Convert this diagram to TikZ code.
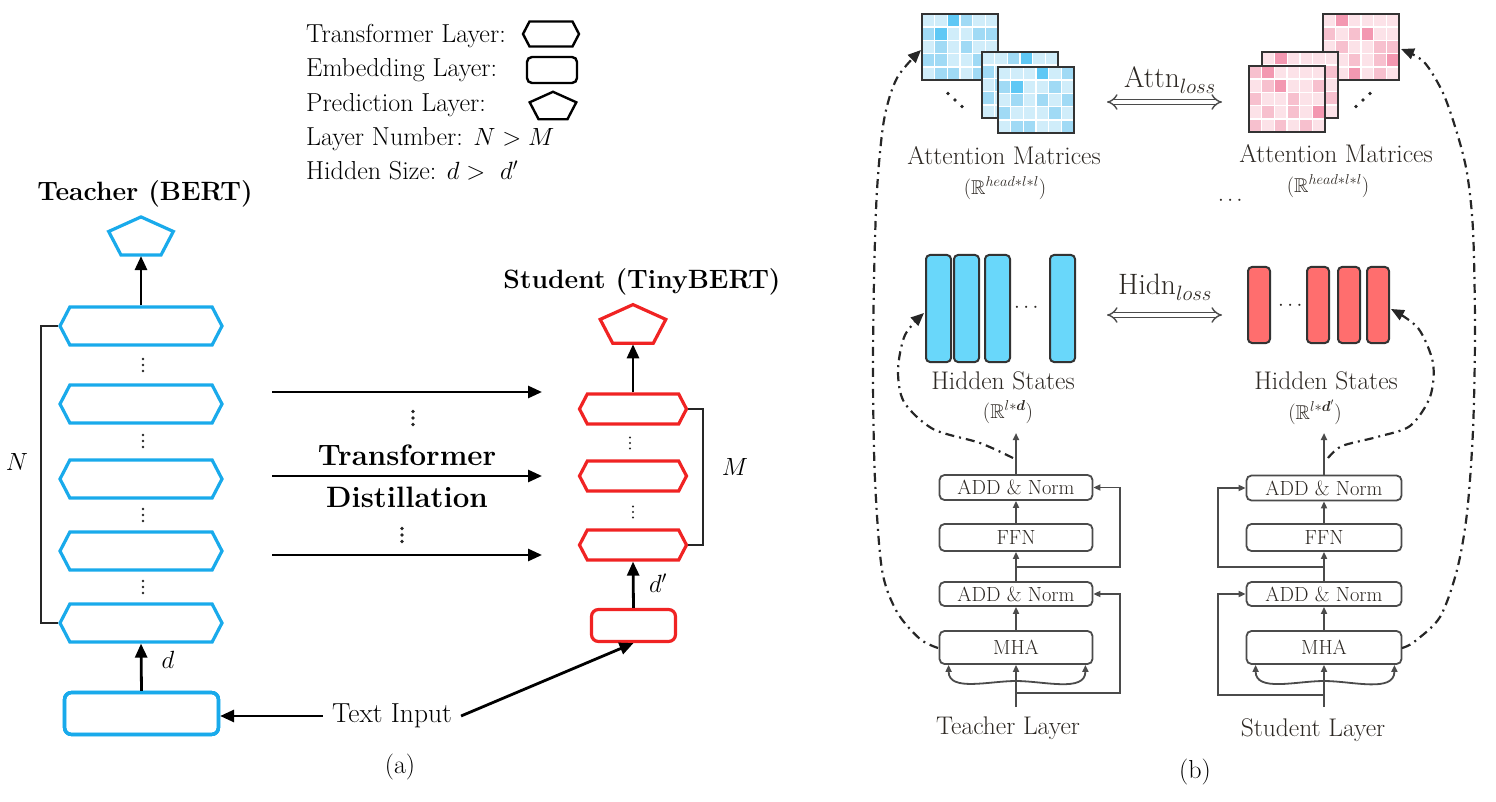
\documentclass[tikz,border=0pt]{standalone}
\usepackage{amsmath, amssymb}
\usepackage{tikz}
\usetikzlibrary{arrows.meta, positioning, shapes.geometric, shapes.symbols, calc}
\definecolor{tblue}{RGB}{25,170,235}
\definecolor{sred}{RGB}{240,35,35}
\definecolor{hidblue}{RGB}{105,215,250}
\definecolor{hidred}{RGB}{255,110,110}
\definecolor{bcell0}{RGB}{208,237,250}
\definecolor{bcell1}{RGB}{160,218,245}
\definecolor{bcell2}{RGB}{95,200,245}
\definecolor{pcell0}{RGB}{252,226,232}
\definecolor{pcell1}{RGB}{247,192,206}
\definecolor{pcell2}{RGB}{243,152,177}
\definecolor{boxgray}{RGB}{75,75,75}
\definecolor{txtgray}{RGB}{45,40,35}

\tikzset{
  tlayer/.style={signal, signal to=west and east, signal pointer angle=125,
    line width=3.2pt, minimum width=162pt, minimum height=38pt, inner sep=0pt},
  slayer/.style={tlayer, minimum width=107pt, minimum height=30pt},
  elayer/.style={rectangle, rounded corners=7pt, line width=3.2pt, inner sep=0pt},
  player/.style={regular polygon, regular polygon sides=5, yscale=0.62,
    line width=3.2pt, inner sep=0pt},
  lgd/.style={font=\fontsize{26}{30}\selectfont, inner sep=0pt},
  ttl/.style={font=\fontsize{26.5}{31}\selectfont\bfseries, inner sep=0pt},
  big/.style={font=\fontsize{29.5}{34}\selectfont\bfseries, inner sep=0pt},
  arr/.style={line width=2.8pt, -{Triangle[length=14pt,width=12pt]}},
  brk/.style={line width=2pt, black!85},
  lbl/.style={font=\fontsize{25.5}{30}\selectfont, text=txtgray, inner sep=0pt},
  sub/.style={font=\fontsize{20}{24}\selectfont, text=txtgray, inner sep=0pt},
  blk/.style={draw=boxgray, line width=1.8pt, rounded corners=5pt, fill=white,
    minimum width=153pt, inner sep=0pt, font=\fontsize{20.5}{24}\selectfont, text=txtgray},
  sarr/.style={line width=1.8pt, boxgray, -{Triangle[length=7pt,width=6pt]}},
  dd/.style={line width=2.2pt, black!85, dash pattern=on 9pt off 5pt on 2pt off 5pt,
    -{Triangle[length=13pt,width=11pt]}},
  dbl/.style={draw=boxgray, line width=1.4pt, double=white, double distance=4pt,
    {Implies}-{Implies}},
  hbar/.style={draw=black!80, line width=2pt, rounded corners=4pt},
}

% one attention matrix: top-left x, top-left y, colour prefix, 30 shades
\newcommand{\attnmat}[4]{%
  \fill[white] (#1,#2) rectangle ++(76,66);
  \foreach \s [count=\k from 0] in {#4} {
    \pgfmathsetmacro\xx{#1+mod(\k,6)*12.667+0.8}
    \pgfmathsetmacro\yy{#2+div(\k,6)*13.2+0.8}
    \fill[#3\s] (\xx,\yy) rectangle ++(11.07,11.6);
  }
  \draw[line width=2pt, black!80] (#1,#2) rectangle ++(76,66);
}
% three dots in a column: x, y, gap, radius
\newcommand{\dotcol}[4]{%
  \foreach \dy in {-1,0,1} \fill[black!85] (#1,#2+\dy*#3) circle (#4);
}

\begin{document}
\begin{tikzpicture}[x=1pt, y=-1pt]
  \useasboundingbox (0,0) rectangle (1496,802);

  % Legend
  \node[lgd, anchor=base west] (lg1) at (306,43) {Transformer Layer:};
  \node[lgd, anchor=base west] (lg2) at (306,77) {Embedding Layer:};
  \node[lgd, anchor=base west] (lg3) at (306,112) {Prediction Layer:};
  \node[lgd, anchor=base west] (lg4) at (306,146) {Layer Number: $N > M$};
  \node[lgd, anchor=base west] (lg5) at (306,180) {Hidden Size: $d >\ d'$};
  \node[tlayer, draw=black, line width=2.4pt, minimum width=56pt, minimum height=25pt] (lgh) at (551,34) {};
  \node[elayer, draw=black, line width=2.4pt, minimum width=50pt, minimum height=26pt, rounded corners=5pt] (lgr) at (552,70) {};
  \node[player, draw=black, line width=2.4pt, minimum size=49pt] (lgp) at (553,107) {};

  % Teacher
  \node[ttl, anchor=base] (tname) at (145,201) {Teacher (BERT)};
  \node[player, draw=tblue, minimum size=68pt] (tpred) at (141,238) {};
  \foreach \i/\y in {1/326,2/404,3/479,4/551,5/623}
    \node[tlayer, draw=tblue] (thex\i) at (141,\y) {};
  \foreach \y in {365,441,515,587}
    \dotcol{143}{\y}{6}{1.3pt}
  \node[elayer, draw=tblue, minimum width=154pt, minimum height=42pt] (temb) at (141.5,713.5) {};
  \draw[arr] (thex1.north) -- (tpred.south);
  \draw[arr] (temb.north) -- (thex5.south);
  \node[lgd] (dlab) at (168,660) {$d$};
  \draw[brk] (thex1.west) -- ++(-17,0) |- (thex5.west);
  \node[lgd] (nlab) at (17,462) {$N$};

  % Student
  \node[ttl, anchor=base] (sname) at (642,289) {Student (TinyBERT)};
  \node[player, draw=sred, minimum size=69pt] (spred) at (633,326) {};
  \foreach \i/\y in {1/409,2/476,3/545}
    \node[slayer, draw=sred] (shex\i) at (633,\y) {};
  \dotcol{630}{443}{5.5}{1.2pt}
  \dotcol{633}{512}{5.5}{1.2pt}
  \node[elayer, draw=sred, minimum width=84pt, minimum height=32pt] (semb) at (633.5,625.5) {};
  \draw[arr] (shex1.north) -- (spred.south);
  \draw[arr] (semb.north) -- (shex3.south);
  \node[lgd] (dplab) at (658,583) {$d'$};
  \draw[brk] (shex1.east) -- ++(15,0) |- (shex3.east);
  \node[lgd] (mlab) at (735,467) {$M$};

  % Distillation
  \foreach \i/\y in {1/392,2/476,3/555} {
    \coordinate (ds\i) at (272,\y);
    \coordinate (de\i) at (542,\y);
    \draw[arr] (ds\i) -- (de\i);
  }
  \node[big] (dist1) at (407,455) {Transformer};
  \node[big] (dist2) at (407,497) {Distillation};
  \dotcol{413}{418}{6.5}{1.8pt}
  \dotcol{402}{535}{6.5}{1.8pt}

  % Input
  \node[font=\fontsize{27.5}{32}\selectfont, inner sep=9pt] (txtin) at (392,716) {Text Input};
  \draw[arr] (txtin.west) -- (txtin.west -| temb.east);
  \draw[arr] (txtin.east) -- (semb.south);
  \node[font=\fontsize{26}{30}\selectfont] (alab) at (400,767) {(a)};

  % Attention matrices
  \attnmat{922}{14}{bcell}{0,0,2,1,0,0, 1,2,0,0,1,1, 0,1,0,1,0,0, 1,1,0,0,1,0, 0,1,1,0,1,0}
  \attnmat{982}{52}{bcell}{0,0,1,2,0,0, 1,0,0,1,0,1, 0,1,0,0,1,0, 1,0,1,0,0,1, 0,0,1,1,0,0}
  \attnmat{998}{67}{bcell}{0,0,0,2,0,1, 1,2,0,0,1,0, 0,1,0,1,0,1, 1,0,0,0,1,0, 0,1,1,0,0,1}
  \attnmat{1323}{14}{pcell}{0,2,0,0,0,0, 1,0,1,2,0,0, 0,1,0,0,1,1, 1,0,1,0,1,2, 0,0,2,0,1,0}
  \attnmat{1262}{52}{pcell}{0,2,0,0,0,0, 1,0,0,1,0,1, 0,1,0,0,1,0, 0,0,1,0,0,1, 1,0,0,1,0,0}
  \attnmat{1249}{66}{pcell}{1,2,0,0,0,0, 0,1,2,0,0,1, 1,0,0,1,0,0, 0,1,0,1,0,2, 1,0,1,0,1,0}
  \foreach \d in {-1,0,1} {
    \fill[black!85] (955+\d*7,100+\d*6.5) circle (1.8pt);
    \fill[black!85] (1363+\d*7,100-\d*6.5) circle (1.8pt);
  }
  \node[lbl] (tattn) at (1004,156) {Attention Matrices};
  \node[sub] (tattnr) at (1005,188) {$(\mathbb{R}^{head*l*l})$};
  \node[lbl] (sattn) at (1336,154) {Attention Matrices};
  \node[sub] (sattnr) at (1328,186) {$(\mathbb{R}^{head*l*l})$};
  \node[sub] (sadots) at (1232,201) {$\cdots$};
  \coordinate (attnl) at (1107,102);
  \coordinate (attnr) at (1222,102);
  \draw[dbl] (attnl) -- (attnr);
  \node[lbl, font=\fontsize{29.5}{34}\selectfont] (attnloss) at (1170,80) {Attn$_{loss}$};

  % Hidden states
  \foreach \x in {926,954,985,1050}
    \draw[hbar, fill=hidblue] (\x,255) rectangle ++(25,107);
  \foreach \x in {1248,1307,1338,1367}
    \draw[hbar, fill=hidred] (\x,267) rectangle ++(22,76);
  \node[sub] (thdots) at (1028,308) {$\cdots$};
  \node[sub] (shdots) at (1292,306) {$\cdots$};
  \node[lbl] (thid) at (1003,381) {Hidden States};
  \node[sub] (thidr) at (1008,412) {$(\mathbb{R}^{l*\boldsymbol{d}})$};
  \node[lbl] (shid) at (1326,381) {Hidden States};
  \node[sub] (shidr) at (1315,412) {$(\mathbb{R}^{l*\boldsymbol{d}'})$};
  \coordinate (hidnl) at (1107,315);
  \coordinate (hidnr) at (1222,315);
  \draw[dbl] (hidnl) -- (hidnr);
  \node[lbl, font=\fontsize{29.5}{34}\selectfont] (hidnloss) at (1165,287) {Hidn$_{loss}$};

  % Teacher layer
  \node[blk, minimum height=25pt] (tan1) at (1016,487.5) {ADD \& Norm};
  \node[blk, minimum height=27pt] (tffn) at (1016,537.5) {FFN};
  \node[blk, minimum height=24pt] (tan2) at (1016,594) {ADD \& Norm};
  \node[blk, minimum height=33pt] (tmha) at (1016,647.5) {MHA};
  \coordinate (tin) at (1016,707);
  \coordinate (tout) at (1016,433);
  \coordinate (tsplit) at (1016,681);
  \coordinate (tr1) at (1016,693);
  \coordinate (tr2) at (1016,567);
  \draw[sarr] (tin) -- (tmha.south);
  \draw[sarr] (tmha.north) -- (tan2.south);
  \draw[sarr] (tan2.north) -- (tffn.south);
  \draw[sarr] (tffn.north) -- (tan1.south);
  \draw[sarr] (tan1.north) -- (tout);
  \draw[sarr] (tsplit) to[out=180, in=-90] ($(tmha.south west)+(10,0)$);
  \draw[sarr] (tsplit) to[out=0, in=-90] ($(tmha.south east)+(-8,0)$);
  \draw[sarr] (tr1) -- ++(104,0) |- (tan2.east);
  \draw[sarr] (tr2) -- ++(104,0) |- (tan1.east);
  \node[lbl] (tlay) at (1008,728) {Teacher Layer};

  % Student layer
  \node[blk, minimum height=25pt, minimum width=155pt] (san1) at (1324,488) {ADD \& Norm};
  \node[blk, minimum height=27pt, minimum width=155pt] (sffn) at (1324,537.5) {FFN};
  \node[blk, minimum height=24pt, minimum width=155pt] (san2) at (1324,594) {ADD \& Norm};
  \node[blk, minimum height=33pt, minimum width=155pt] (smha) at (1324,647.5) {MHA};
  \coordinate (sin) at (1324,707);
  \coordinate (sout) at (1324,433);
  \coordinate (ssplit) at (1324,681);
  \coordinate (sr1) at (1324,695);
  \coordinate (sr2) at (1324,567);
  \draw[sarr] (sin) -- (smha.south);
  \draw[sarr] (smha.north) -- (san2.south);
  \draw[sarr] (san2.north) -- (sffn.south);
  \draw[sarr] (sffn.north) -- (san1.south);
  \draw[sarr] (san1.north) -- (sout);
  \draw[sarr] (ssplit) to[out=180, in=-90] ($(smha.south west)+(10,0)$);
  \draw[sarr] (ssplit) to[out=0, in=-90] ($(smha.south east)+(-8,0)$);
  \draw[sarr] (sr1) -- ++(-106,0) |- (san2.west);
  \draw[sarr] (sr2) -- ++(-106,0) |- (san1.west);
  \node[lbl] (slay) at (1313,730) {Student Layer};

  % Dash-dot links
  \draw[dd] plot[smooth] coordinates {(938,648) (920,639) (897,612) (882,570) (875,480)
    (873,380) (874,280) (877,190) (884,120) (897,78) (921,50)};
  \draw[dd] plot[smooth] coordinates {(1402,648) (1414,642) (1440,617) (1457,570) (1467,513)
    (1473,430) (1475,330) (1473,230) (1467,173) (1457,133) (1443,93) (1424,62) (1401,49)};
  \draw[dd] plot[smooth] coordinates {(1013,458) (980,443) (933,429) (904,402) (898,370)
    (905,335) (924,313)};
  \draw[dd] plot[smooth] coordinates {(1328,458) (1342,446) (1377,437) (1410,426) (1430,397)
    (1433,363) (1418,328) (1391,309)};

  \node[font=\fontsize{26}{30}\selectfont] (blab) at (1195,772) {(b)};
\end{tikzpicture}
\end{document}
